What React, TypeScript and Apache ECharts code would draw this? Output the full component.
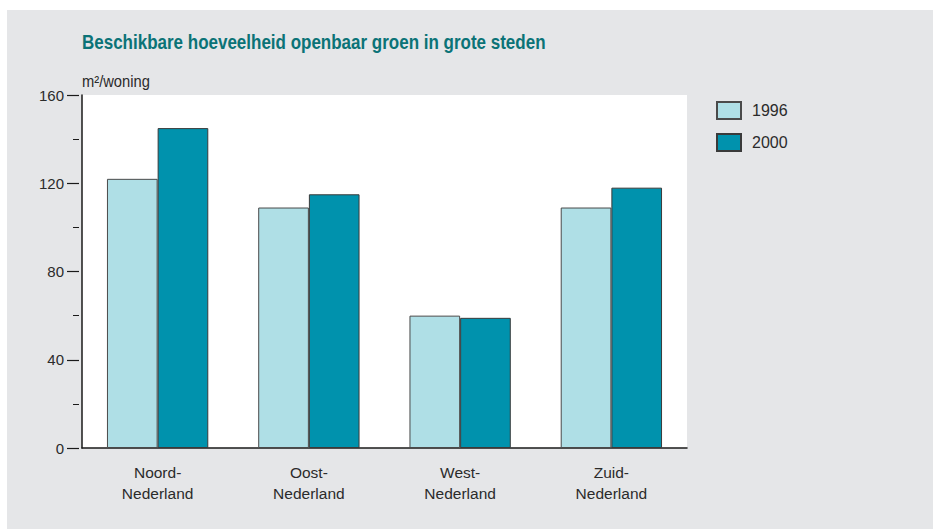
import React, { useEffect, useRef } from "react";
import * as echarts from "echarts";

const categories = ["Noord-\nNederland", "Oost-\nNederland", "West-\nNederland", "Zuid-\nNederland"];
const seriesNames = ["1996", "2000"];
const values1996 = [122, 109, 60, 109];
const values2000 = [145, 115, 59, 118];
const yTicks = [0, 40, 80, 120, 160];

const REG = "Liberation Sans, Arial, Helvetica, sans-serif";

export default function App() {
  const ref = useRef<HTMLDivElement>(null);
  useEffect(() => {
    if (!ref.current) return;
    const chart = echarts.init(ref.current, undefined, { renderer: "svg" });
    chart.setOption({
      animation: false,
      backgroundColor: "#ffffff",
      graphic: [
        {
          type: "rect",
          z: -10,
          silent: true,
          shape: { x: 7, y: 10, width: 926, height: 519 },
          style: { fill: "#e5e6e8" },
        },
        {
          type: "text",
          x: 82,
          y: 42,
          scaleX: 0.85,
          style: {
            text: "Beschikbare hoeveelheid openbaar groen in grote steden",
            font: "bold 20px " + REG,
            fill: "#0b7377",
            verticalAlign: "middle",
          },
        },
        {
          type: "text",
          x: 82,
          y: 81,
          scaleX: 0.92,
          style: {
            text: "m²/woning",
            font: "16px " + REG,
            fill: "#2b2b2b",
            verticalAlign: "middle",
          },
        },
      ],
      legend: {
        orient: "vertical",
        left: 716,
        top: 101,
        padding: 0,
        itemWidth: 24,
        itemHeight: 17,
        itemGap: 13,
        icon: "rect",
        data: seriesNames,
        textStyle: { fontFamily: REG, fontSize: 16, color: "#2b2b2b", padding: [0, 0, 0, 6] },
      },
      grid: {
        left: 82,
        top: 95,
        right: 246,
        bottom: 81,
        show: true,
        backgroundColor: "#ffffff",
        borderWidth: 0,
      },
      xAxis: {
        type: "category",
        data: categories,
        axisLine: { show: true, lineStyle: { color: "#1a1a1a", width: 1.5 } },
        axisTick: { show: false },
        axisLabel: {
          fontFamily: REG,
          fontSize: 15.5,
          lineHeight: 21,
          color: "#2b2b2b",
          margin: 14,
          interval: 0,
        },
      },
      yAxis: [
        {
          type: "value",
          min: yTicks[0],
          max: yTicks[yTicks.length - 1],
          interval: 40,
          axisLine: { show: true, lineStyle: { color: "#1a1a1a", width: 1.5 } },
          axisTick: { show: false },
          axisLabel: { show: false },
          splitLine: { show: false },
        },
        {
          type: "value",
          position: "left",
          offset: 3,
          min: yTicks[0],
          max: yTicks[yTicks.length - 1],
          interval: 40,
          axisLine: { show: false },
          axisTick: { show: true, length: 12, lineStyle: { color: "#1a1a1a", width: 1.2 } },
          minorTick: { show: true, splitNumber: 2, length: 6, lineStyle: { color: "#1a1a1a", width: 1 } },
          axisLabel: { fontFamily: REG, fontSize: 15, color: "#2b2b2b", margin: 15 },
          splitLine: { show: false },
        },
      ],
      series: [
        {
          name: seriesNames[0],
          type: "bar",
          data: values1996,
          barGap: "0%",
          barCategoryGap: "33%",
          itemStyle: { color: "#afdfe6", borderColor: "#4a4a4a", borderWidth: 1 },
        },
        {
          name: seriesNames[1],
          type: "bar",
          data: values2000,
          barGap: "0%",
          barCategoryGap: "33%",
          itemStyle: { color: "#0092ad", borderColor: "#3a3a3a", borderWidth: 1 },
        },
      ],
    });
    return () => chart.dispose();
  }, []);
  return (
    <div
      ref={ref}
      style={{ position: "fixed", left: 0, top: 0, width: 933, height: 529 }}
    />
  );
}
